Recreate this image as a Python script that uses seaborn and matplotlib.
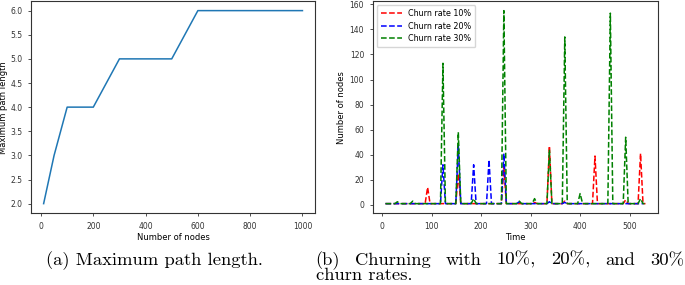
import matplotlib
matplotlib.use("Agg")
import matplotlib.pyplot as plt
import seaborn as sns

# ---- data: panel (a) ----
nodes = [10, 50, 100, 200, 300, 400, 500, 600, 700, 800, 900, 1000]
max_path = [2, 3, 4, 4, 5, 5, 5, 6, 6, 6, 6, 6]

# ---- data: panel (b) ----
red_time = [7, 87, 92, 97, 149, 154, 159, 241, 246, 251, 303, 308, 313, 333, 338, 343,
            364, 369, 374, 425, 430, 435, 487, 492, 497, 517, 522, 527, 532]
red_vals = [1, 1, 14, 1, 1, 25, 1, 1, 30, 1, 1, 2, 1, 1, 47, 1,
            1, 3, 1, 1, 39, 1, 1, 4, 1, 1, 41, 1, 1]

blue_time = [7, 118, 123, 128, 149, 154, 159, 180, 185, 190, 211, 216, 221, 241, 246, 251,
             272, 277, 282, 333, 338, 343, 364, 369, 374, 528]
blue_vals = [1, 1, 32, 1, 1, 48, 1, 1, 32, 1, 1, 36, 1, 1, 41, 1,
             1, 2.5, 1, 1, 2.5, 1, 1, 2, 1, 1]

green_time = [7, 26, 31, 36, 57, 62, 67, 118, 123, 128, 149, 154, 159, 180, 185, 190,
              241, 246, 251, 272, 277, 282, 303, 308, 313, 333, 338, 343, 364, 369, 374,
              395, 400, 405, 456, 461, 466, 487, 492, 497, 517, 522, 527, 530]
green_vals = [1, 1, 2.5, 1, 1, 3, 1, 1, 113, 1, 1, 58, 1, 1, 5, 1,
              1, 155, 1, 1, 3, 1, 1, 5, 1, 1, 44, 1, 1, 134, 1,
              1, 9, 1, 1, 153, 1, 1, 54, 1, 1, 5, 1, 1]

series_labels = ["Churn rate 10%", "Churn rate 20%", "Churn rate 30%"]

caption_a = "(a) Maximum path length."
caption_b_line1 = ["(b)", "Churning", "with", "10%,", "20%,", "and", "30%"]
caption_b_line2 = "churn rates."

plt.rcParams.update({
    "font.family": ["DejaVu Sans"],
    "xtick.labelsize": 5.5,
    "ytick.labelsize": 5.5,
    "xtick.major.size": 2.5,
    "ytick.major.size": 2.5,
    "xtick.major.width": 0.6,
    "ytick.major.width": 0.6,
    "axes.linewidth": 0.8,
    "axes.edgecolor": "#333333",
    "xtick.color": "#333333",
    "ytick.color": "#333333",
})

W, H = 685, 285
fig = plt.figure(figsize=(W / 100, H / 100), dpi=100)
axA = fig.add_axes([0.0448, 0.2516, 0.4156, 0.745])
axB = fig.add_axes([0.5438, 0.2516, 0.4175, 0.745])

sns.lineplot(x=nodes, y=max_path, ax=axA, color="#1f77b4", linewidth=1.1)
axA.set_xlabel("Number of nodes", fontsize=6, labelpad=2)
axA.set_ylabel("Maximum path length", fontsize=6, labelpad=1.5)

for t, v, c, lab in [(red_time, red_vals, "red", series_labels[0]),
                     (blue_time, blue_vals, "blue", series_labels[1]),
                     (green_time, green_vals, "green", series_labels[2])]:
    sns.lineplot(x=t, y=v, ax=axB, color=c, linestyle="--", linewidth=1.1, label=lab)
axB.set_xlabel("Time", fontsize=6, labelpad=2)
axB.set_ylabel("Number of nodes", fontsize=6, labelpad=2.5)
axB.legend(loc="upper left", fontsize=5.8, handlelength=2.6, borderpad=0.5,
           labelspacing=0.45, handletextpad=0.8)

cap = dict(family="cmr10", fontsize=13.4, va="baseline")
fig.text(46 / W, 1 - 265 / H, caption_a, **cap)

# justified first line of caption (b)
renderer = fig.canvas.get_renderer()
texts = [fig.text(0, 1 - 265 / H, w, **cap) for w in caption_b_line1]
widths = [t.get_window_extent(renderer).width for t in texts]
x0, x1 = 315, 684
gap = (x1 - x0 - sum(widths)) / (len(texts) - 1)
x = x0
for t, w in zip(texts, widths):
    t.set_x(x / W)
    x += w + gap
fig.text(316 / W, 1 - 280 / H, caption_b_line2, **cap)

fig.savefig("out.png", dpi=100)
